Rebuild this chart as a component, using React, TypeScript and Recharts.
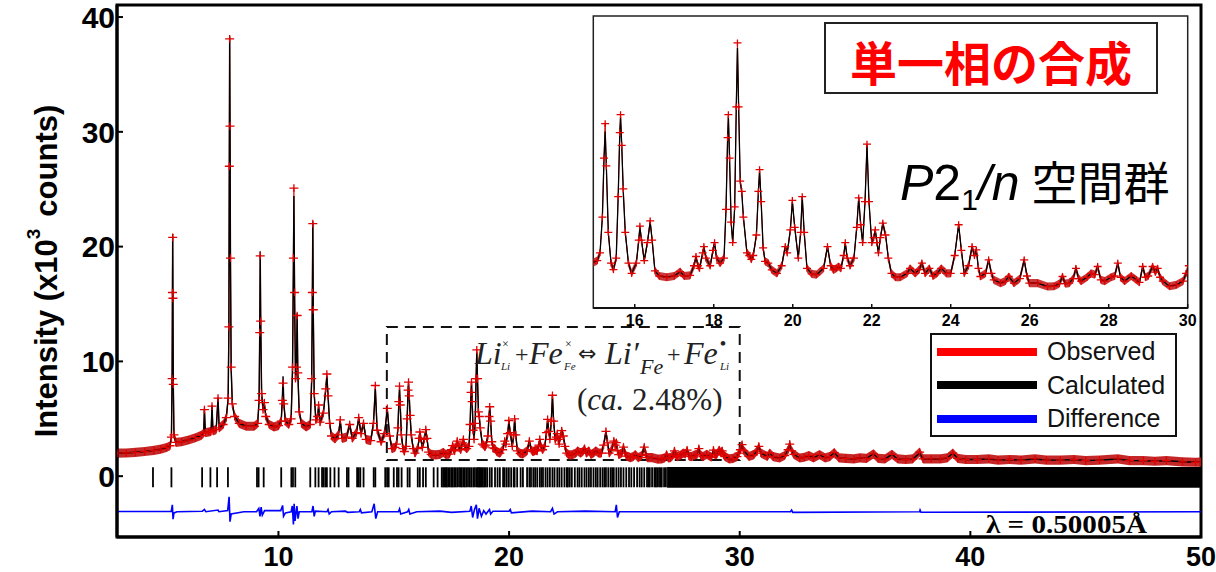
import React from "react";
import {
  ComposedChart,
  Line,
  Area,
  Scatter,
  XAxis,
  YAxis,
  ReferenceArea,
  Legend,
} from "recharts";

// 2θ (deg), observed, calculated — intensity in 10^3 counts
const profileLow: [number, number, number][] = [
  [3.0, 2.0, 2.0], [3.4, 2.02, 2.02], [3.8, 2.08, 2.08], [4.2, 2.15, 2.15],
  [4.6, 2.25, 2.25], [4.9, 2.35, 2.35], [5.15, 2.5, 2.5], [5.3, 2.65, 2.65],
  [5.36, 3.4, 3.3], [5.39, 8.5, 9.0], [5.405, 16.0, 16.5], [5.415, 20.8, 21.1],
  [5.425, 15.5, 15.8], [5.44, 8.0, 8.3], [5.47, 3.6, 3.6], [5.55, 2.95, 2.95],
  [5.8, 3.0, 3.0], [6.1, 3.15, 3.15], [6.4, 3.35, 3.35], [6.65, 3.55, 3.55],
  [6.76, 3.75, 3.75], [6.79, 5.8, 5.9], [6.83, 3.8, 3.8], [6.98, 3.85, 3.85],
  [7.08, 3.9, 3.9], [7.12, 6.1, 6.2], [7.16, 3.95, 3.95], [7.3, 4.05, 4.05],
  [7.38, 6.8, 6.85], [7.43, 4.2, 4.2], [7.6, 4.5, 4.5], [7.74, 5.1, 5.1],
  [7.82, 6.8, 6.8], [7.85, 13.0, 12.5], [7.87, 27.0, 27.5], [7.885, 38.1, 38.3],
  [7.9, 30.5, 31.0], [7.92, 19.0, 18.5], [7.95, 9.5, 9.3], [8.0, 6.3, 6.3],
  [8.1, 5.2, 5.2], [8.3, 4.6, 4.6], [8.6, 4.35, 4.35], [8.95, 4.35, 4.35],
  [9.1, 4.6, 4.6], [9.16, 6.6, 6.6], [9.19, 12.5, 12.8], [9.21, 19.2, 19.6],
  [9.23, 13.5, 13.8], [9.27, 7.2, 7.2], [9.33, 5.8, 5.8], [9.39, 6.4, 6.3],
  [9.45, 5.2, 5.2], [9.6, 4.5, 4.5], [9.8, 4.3, 4.3], [10.0, 4.4, 4.4],
  [10.12, 4.8, 4.8], [10.17, 6.6, 6.8], [10.2, 8.1, 8.7], [10.23, 6.3, 6.5],
  [10.3, 4.8, 4.8], [10.45, 4.5, 4.5], [10.55, 5.0, 5.0], [10.61, 9.5, 9.2],
  [10.65, 19.0, 18.5], [10.67, 25.1, 24.4], [10.7, 16.0, 15.5], [10.74, 8.5, 8.3],
  [10.78, 9.5, 9.3], [10.81, 14.0, 14.2], [10.84, 9.0, 9.0], [10.9, 5.6, 5.6],
  [11.0, 4.6, 4.6], [11.2, 4.3, 4.3], [11.38, 4.5, 4.5], [11.44, 8.5, 8.3],
  [11.47, 16.0, 15.5], [11.49, 22.0, 22.2], [11.51, 14.5, 14.3], [11.55, 7.2, 7.2],
  [11.62, 4.9, 4.9], [11.7, 5.2, 5.2], [11.74, 6.2, 6.1], [11.8, 4.7, 4.7],
  [11.95, 5.5, 5.5], [12.05, 7.6, 7.6], [12.1, 8.9, 8.7], [12.15, 7.0, 7.0],
  [12.22, 4.6, 4.6], [12.3, 3.5, 3.5], [12.45, 3.25, 3.25], [12.6, 3.6, 3.6],
  [12.68, 4.9, 4.8], [12.76, 3.3, 3.3], [12.95, 3.4, 3.4], [13.09, 4.5, 4.5],
  [13.2, 3.3, 3.3], [13.38, 3.8, 3.8], [13.48, 5.1, 5.0], [13.58, 3.7, 3.7],
  [13.69, 4.6, 4.6], [13.8, 3.2, 3.2], [14.0, 3.1, 3.1], [14.12, 4.6, 4.6],
  [14.2, 7.9, 7.6], [14.28, 4.0, 4.0], [14.45, 3.0, 3.0], [14.6, 3.7, 3.7],
  [14.72, 5.9, 5.8], [14.82, 3.5, 3.5], [14.92, 2.4, 2.4],
];

const profileMid: [number, number, number][] = [
  [15.05, 2.5, 2.5], [15.12, 2.8, 2.8], [15.18, 4.2, 4.2], [15.22, 6.5, 6.4],
  [15.25, 7.85, 7.54], [15.28, 6.2, 6.2], [15.33, 3.6, 3.6], [15.4, 2.4, 2.4],
  [15.46, 2.15, 2.15], [15.53, 2.6, 2.6], [15.58, 5.0, 5.0], [15.62, 7.5, 7.4],
  [15.64, 8.2, 8.1], [15.67, 7.0, 7.0], [15.71, 5.3, 5.1], [15.76, 3.6, 3.6],
  [15.84, 2.4, 2.4], [15.92, 2.0, 2.0], [16.04, 2.4, 2.4], [16.1, 3.3, 3.3],
  [16.13, 3.85, 3.8], [16.17, 3.3, 3.3], [16.24, 2.5, 2.5], [16.32, 3.2, 3.2],
  [16.39, 4.05, 4.0], [16.44, 3.3, 3.3], [16.51, 2.1, 2.1], [16.62, 1.9, 1.9],
  [16.81, 1.85, 1.85], [17.0, 1.9, 1.9], [17.15, 2.07, 2.07], [17.25, 1.9, 1.9],
  [17.4, 1.92, 1.92], [17.5, 2.3, 2.3], [17.55, 2.66, 2.66], [17.6, 2.3, 2.3],
  [17.64, 2.2, 2.2], [17.72, 2.8, 2.8], [17.75, 3.05, 3.05], [17.8, 2.6, 2.6],
  [17.91, 2.3, 2.3], [17.98, 2.9, 2.9], [18.02, 3.2, 3.2], [18.07, 2.6, 2.6],
  [18.16, 2.4, 2.4], [18.26, 2.6, 2.6], [18.31, 4.5, 4.5], [18.35, 7.3, 7.2],
  [18.37, 8.2, 8.13], [18.4, 6.5, 6.5], [18.44, 4.0, 4.0], [18.48, 3.2, 3.2],
  [18.53, 4.6, 4.6], [18.57, 8.5, 8.5], [18.6, 11.0, 10.8], [18.63, 8.5, 8.5],
  [18.67, 5.6, 5.6], [18.71, 5.2, 5.13], [18.75, 4.2, 4.2], [18.84, 2.8, 2.8],
  [18.9, 2.7, 2.7], [18.95, 2.55, 2.55], [19.0, 2.7, 2.7], [19.08, 3.5, 3.5],
  [19.13, 5.2, 5.2], [19.16, 6.05, 6.0], [19.2, 4.8, 4.8], [19.25, 3.0, 3.0],
  [19.3, 2.47, 2.47], [19.38, 2.4, 2.4], [19.47, 2.14, 2.14], [19.6, 2.0, 2.0],
  [19.72, 2.3, 2.3], [19.81, 3.05, 3.05], [19.86, 2.8, 2.8], [19.94, 3.7, 3.7],
  [19.99, 4.85, 4.8], [20.05, 3.8, 3.8], [20.14, 2.6, 2.6], [20.2, 3.6, 3.6],
  [20.24, 5.0, 5.0], [20.29, 3.6, 3.6], [20.36, 2.2, 2.2], [20.48, 1.98, 1.98],
  [20.6, 1.95, 1.95], [20.78, 2.2, 2.2], [20.88, 3.05, 3.05], [20.96, 2.3, 2.3],
  [21.03, 2.14, 2.14], [21.1, 2.2, 2.2], [21.16, 2.27, 2.27], [21.22, 2.2, 2.2],
  [21.29, 2.7, 2.7], [21.33, 3.2, 3.18], [21.38, 2.6, 2.6], [21.45, 2.3, 2.3],
  [21.55, 2.6, 2.6], [21.62, 3.8, 3.8], [21.67, 4.95, 4.94], [21.72, 3.9, 3.9],
  [21.77, 3.2, 3.18], [21.83, 4.8, 4.8], [21.88, 7.05, 7.0], [21.93, 4.8, 4.8],
  [22.0, 3.2, 3.18], [22.05, 3.4, 3.4], [22.09, 3.7, 3.7], [22.13, 3.2, 3.2],
  [22.17, 2.8, 2.8], [22.22, 3.4, 3.4], [22.28, 3.96, 3.96], [22.35, 3.5, 3.5],
  [22.42, 2.6, 2.6], [22.5, 2.0, 2.0], [22.6, 1.85, 1.85], [22.72, 1.85, 1.85],
  [22.89, 2.0, 2.0], [22.97, 2.2, 2.2], [23.1, 2.0, 2.0], [23.2, 2.15, 2.15],
  [23.27, 2.4, 2.4], [23.35, 2.0, 2.0], [23.46, 2.2, 2.2], [23.55, 1.9, 1.9],
  [23.65, 2.0, 2.0], [23.76, 2.2, 2.2], [23.89, 2.0, 2.0], [24.0, 2.0, 2.0],
  [24.1, 2.7, 2.7], [24.2, 3.9, 3.9], [24.27, 2.9, 2.9], [24.34, 2.0, 2.0],
  [24.45, 2.3, 2.3], [24.54, 3.05, 3.05], [24.6, 2.7, 2.7], [24.65, 2.92, 2.92],
  [24.7, 2.2, 2.2], [24.75, 1.88, 1.88], [24.88, 2.0, 2.0], [24.96, 2.53, 2.53],
  [25.03, 2.0, 2.0], [25.09, 1.75, 1.75], [25.26, 1.62, 1.62], [25.38, 1.7, 1.7],
  [25.47, 1.88, 1.88], [25.6, 1.62, 1.62], [25.75, 1.8, 1.8], [25.86, 2.53, 2.53],
  [25.93, 1.9, 1.9], [25.99, 1.62, 1.62], [26.2, 1.62, 1.62], [26.45, 1.49, 1.49],
  [26.62, 1.5, 1.5], [26.75, 1.6, 1.6], [26.83, 1.88, 1.88], [26.9, 1.6, 1.6],
  [27.0, 1.62, 1.62], [27.1, 1.8, 1.8], [27.17, 2.2, 2.2], [27.24, 1.8, 1.8],
  [27.3, 1.7, 1.7], [27.45, 1.85, 1.85], [27.55, 2.0, 2.0], [27.65, 1.95, 1.95],
  [27.72, 2.27, 2.27], [27.8, 1.75, 1.75], [27.9, 1.7, 1.7], [28.06, 1.85, 1.85],
  [28.15, 1.9, 1.9], [28.23, 2.4, 2.4], [28.3, 1.85, 1.85], [28.4, 1.7, 1.7],
  [28.57, 1.9, 1.9], [28.7, 1.75, 1.75], [28.78, 1.65, 1.65], [28.86, 2.27, 2.27],
  [28.93, 1.85, 1.85], [29.0, 1.9, 1.9], [29.11, 2.27, 2.27], [29.18, 2.05, 2.05],
  [29.24, 2.2, 2.2], [29.3, 1.85, 1.85], [29.37, 1.7, 1.7], [29.54, 1.5, 1.5],
  [29.71, 1.55, 1.55], [29.88, 1.7, 1.7], [29.96, 2.0, 2.0], [30.03, 2.3, 2.3],
];

const profileHigh: [number, number, number][] = [
  [30.1, 2.75, 2.7], [30.18, 2.2, 2.2], [30.4, 1.73, 1.73], [30.6, 1.85, 1.85],
  [30.75, 2.2, 2.2], [30.83, 2.6, 2.6], [30.92, 2.0, 2.0], [31.2, 1.73, 1.73],
  [31.3, 2.0, 2.0], [31.45, 1.7, 1.7], [31.73, 1.58, 1.58], [31.95, 1.8, 1.8],
  [32.1, 2.3, 2.3], [32.17, 2.8, 2.75], [32.25, 2.2, 2.2], [32.35, 1.9, 1.9],
  [32.6, 1.58, 1.58], [32.8, 1.65, 1.65], [33.0, 1.79, 1.79], [33.2, 1.6, 1.6],
  [33.46, 1.87, 1.87], [33.7, 1.6, 1.6], [33.9, 1.7, 1.7], [34.1, 2.05, 2.05],
  [34.3, 1.6, 1.6], [34.6, 1.55, 1.55], [34.95, 1.5, 1.5], [35.2, 1.6, 1.6],
  [35.5, 1.55, 1.55], [35.8, 1.95, 1.95], [36.0, 1.55, 1.55], [36.3, 1.5, 1.5],
  [36.6, 1.9, 1.9], [36.85, 1.5, 1.5], [37.2, 1.45, 1.45], [37.5, 1.5, 1.5],
  [37.8, 2.1, 2.0], [37.95, 1.5, 1.5], [38.3, 1.5, 1.5], [38.7, 1.5, 1.5],
  [39.0, 1.6, 1.6], [39.24, 2.0, 2.0], [39.45, 1.55, 1.55], [39.8, 1.45, 1.45],
  [40.3, 1.45, 1.45], [40.8, 1.5, 1.5], [41.2, 1.4, 1.4], [41.7, 1.45, 1.45],
  [42.2, 1.4, 1.4], [42.8, 1.5, 1.5], [43.3, 1.4, 1.4], [43.9, 1.4, 1.4],
  [44.5, 1.45, 1.45], [45.0, 1.35, 1.35], [45.6, 1.4, 1.4], [46.4, 1.5, 1.5],
  [46.9, 1.35, 1.35], [47.5, 1.35, 1.35], [48.0, 1.3, 1.3], [48.5, 1.35, 1.35],
  [49.2, 1.25, 1.25], [49.76, 1.21, 1.21], [50.0, 1.22, 1.22],
];

// 2θ, Iobs - Icalc (plotted with offset)
const difference: [number, number][] = [
  [3.0, -3.08], [5.35, -3.08], [5.4, -2.5], [5.43, -3.75], [5.47, -3.2], [5.6, -3.1],
  [6.7, -3.05], [6.79, -2.9], [6.85, -3.1], [7.38, -2.95], [7.42, -3.1], [7.8, -3.0],
  [7.86, -1.8], [7.9, -3.96], [7.95, -3.3], [8.5, -3.1], [9.05, -3.1], [9.15, -2.8],
  [9.2, -3.5], [9.25, -2.7], [9.3, -3.4], [9.4, -3.0], [10.1, -3.0], [10.18, -2.55],
  [10.22, -3.5], [10.3, -3.2], [10.55, -3.1], [10.6, -2.6], [10.65, -4.2], [10.68, -2.4],
  [10.72, -3.9], [10.8, -2.6], [10.85, -3.7], [10.9, -3.1], [11.45, -3.1], [11.5, -2.6],
  [11.55, -3.5], [11.6, -3.05], [12.1, -3.1], [12.15, -2.9], [12.2, -3.3], [12.3, -3.1],
  [12.9, -3.05], [13.0, -3.15], [13.5, -3.1], [13.55, -2.9], [13.6, -3.2], [14.05, -3.1],
  [14.15, -2.4], [14.22, -3.7], [14.3, -3.1], [15.2, -3.1], [15.25, -2.85], [15.3, -3.3],
  [15.6, -3.1], [15.65, -2.9], [15.7, -3.3], [16.0, -3.1], [17.0, -3.05], [17.5, -3.15],
  [18.3, -3.05], [18.36, -2.6], [18.42, -3.6], [18.5, -2.9], [18.58, -2.5], [18.63, -3.7],
  [18.7, -2.8], [18.8, -3.5], [18.9, -3.0], [19.0, -3.3], [19.15, -2.9], [19.2, -3.3],
  [19.3, -3.05], [20.0, -3.05], [20.05, -2.9], [20.1, -3.2], [21.0, -3.05], [21.8, -3.1],
  [21.88, -2.8], [21.95, -3.3], [22.1, -3.1], [23.3, -3.05], [24.6, -3.1], [24.65, -2.5],
  [24.7, -3.6], [24.78, -3.1], [32.2, -3.1], [32.25, -2.95], [32.3, -3.15], [37.8, -3.1],
  [37.82, -2.95], [37.86, -3.15], [50.0, -3.1],
];

// Bragg reflection positions (2θ); beyond denseReflectionsFrom they merge into a solid band
const reflections: number[] = [
  4.56, 5.36, 6.69, 7.05, 7.34, 7.81, 9.07, 9.14, 9.36, 10.12, 10.56, 10.63, 10.73,
  11.38, 11.6, 11.74, 11.89, 11.95, 12.03, 12.1, 12.25, 12.43, 12.61, 12.97, 13.04,
  13.41, 13.48, 13.55, 13.69, 14.13, 14.2, 14.63, 14.71, 14.78, 15.0, 15.14, 15.21,
  15.34, 15.6, 15.69, 16.04, 16.13, 16.27, 16.39, 16.73, 16.9, 17.08, 17.14, 17.2,
  17.25, 17.3, 17.36, 17.43, 17.5, 17.55, 17.62, 17.68, 17.75, 17.83, 17.9, 17.95,
  18.02, 18.08, 18.15, 18.22, 18.3, 18.37, 18.45, 18.52, 18.6, 18.65, 18.7, 18.75,
  18.8, 18.86, 18.92, 18.98, 19.05, 19.16, 19.25, 19.39, 19.5, 19.6, 19.74, 19.81,
  19.9, 19.99, 20.09, 20.2, 20.24, 20.35, 20.5, 20.6, 20.78, 20.88, 20.95, 21.05,
  21.13, 21.22, 21.33, 21.4, 21.47, 21.58, 21.67, 21.77, 21.88, 21.97, 22.09, 22.18,
  22.28, 22.4, 22.5, 22.55, 22.63, 22.72, 22.85, 22.97, 23.05, 23.15, 23.27, 23.36,
  23.46, 23.55, 23.66, 23.76, 23.84, 23.95, 24.05, 24.13, 24.2, 24.3, 24.4, 24.47,
  24.54, 24.65, 24.75, 24.85, 24.96, 25.08, 25.2, 25.3, 25.42, 25.55, 25.66, 25.75,
  25.86, 25.98, 26.04, 26.1, 26.2, 26.3, 26.36, 26.42, 26.5, 26.56, 26.62, 26.72, 26.8,
];
const denseReflectionsFrom = 26.85;
const reflectionRow = -0.1;

const xTicks = [10, 20, 30, 40, 50];
const yTicks = [0, 10, 20, 30, 40];
const insetTicks = [16, 18, 20, 22, 24, 26, 28, 30];
const seriesNames = ["Observed", "Calculated", "Difference"];

const SANS = "'Liberation Sans', Arial, Helvetica, sans-serif";
const SERIF = "'Liberation Serif', 'Times New Roman', serif";
const CJK = "'Noto Sans CJK JP', 'Noto Sans CJK SC', sans-serif";

const legendColors: Record<string, string> = {
  Observed: "#ff0000",
  Calculated: "#000000",
  Difference: "#0000ff",
};

const profileRows = [...profileLow, ...profileMid, ...profileHigh].map(
  ([tt, obs, calc]) => ({ tt, obs, calc })
);
const insetRows = profileRows.filter((r) => r.tt >= 14.9 && r.tt <= 30.05);
const diffRows = difference.map(([tt, diff]) => ({ tt, diff }));
const reflRows = reflections.map((tt) => ({ tt, refl: reflectionRow }));

// thickness of the red "observed" band, in intensity units
const bandMain = 0.4;
const bandInset = 0.16;

const crossDot = (size: number) => (props: any) => {
  const { cx, cy, index } = props;
  if (cx == null || cy == null || isNaN(cx) || isNaN(cy)) return <g key={`c${index}`} />;
  return (
    <path
      key={`c${index}`}
      d={`M${cx - size},${cy}h${size * 2}M${cx},${cy - size * 0.85}v${size * 1.7}`}
      stroke="#e00000"
      strokeWidth={1.3}
      fill="none"
    />
  );
};

const reflectionTick = (props: any) => {
  const { cx, cy } = props;
  return <line x1={cx} x2={cx} y1={cy - 10} y2={cy + 10} stroke="#000" strokeWidth={1.8} />;
};

const MainXTick = (props: any) => {
  const { x, y, payload } = props;
  return (
    <g>
      <line x1={x} x2={x} y1={y} y2={y - 6} stroke="#000" strokeWidth={2} />
      <text x={x} y={y + 29} textAnchor="middle" fontSize={27} fontWeight="bold" fontFamily={SANS} fill="#000">
        {payload.value}
      </text>
    </g>
  );
};

const MainYTick = (props: any) => {
  const { x, y, payload } = props;
  return (
    <g>
      <line x1={x} x2={x + 6} y1={y} y2={y} stroke="#000" strokeWidth={2} />
      <text x={x - 2} y={y} dy="0.36em" textAnchor="end" fontSize={30} fontWeight="bold" fontFamily={SANS} fill="#000">
        {payload.value}
      </text>
    </g>
  );
};

const InsetXTick = (props: any) => {
  const { x, y, payload } = props;
  return (
    <g>
      <line x1={x} x2={x} y1={y} y2={y - 4} stroke="#111" strokeWidth={1.5} />
      <text x={x} y={y + 18} textAnchor="middle" fontSize={16} fontWeight="bold" fontFamily={SANS} fill="#000">
        {payload.value}
      </text>
    </g>
  );
};

const renderLegend = (props: any) => {
  const items = seriesNames
    .map((name) => (props.payload || []).find((p: any) => p.value === name))
    .filter(Boolean);
  return (
    <div
      style={{
        width: 247,
        height: 104,
        border: "2px solid #111",
        boxSizing: "border-box",
        background: "#fff",
        fontFamily: SANS,
      }}
    >
      {items.map((item: any) => (
        <div key={item.value} style={{ display: "flex", alignItems: "center", height: 33.5 }}>
          <span
            style={{
              display: "inline-block",
              width: 100,
              height: 8,
              marginLeft: 5,
              marginRight: 10,
              background: legendColors[item.value] ?? item.color,
            }}
          />
          <span style={{ fontSize: 25, color: "#111", lineHeight: 1 }}>{item.value}</span>
        </div>
      ))}
    </div>
  );
};

const formulaSub = { fontSize: 11, fontStyle: "italic" as const };
const formulaSup = { fontSize: 12 };

export default function App() {
  return (
    <div style={{ position: "absolute", left: 0, top: 0, width: 1216, height: 572, background: "#fff", overflow: "hidden" }}>
      <ComposedChart width={1216} height={572} data={profileRows} margin={{ top: 5, right: 15, bottom: 0, left: 0 }}>
        <XAxis
          type="number"
          dataKey="tt"
          domain={[3, 50]}
          ticks={xTicks}
          allowDataOverflow
          height={35}
          axisLine={{ stroke: "#000", strokeWidth: 3 }}
          tickLine={false}
          tickSize={0}
          tickMargin={0}
          tick={<MainXTick />}
        />
        <YAxis
          type="number"
          domain={[-5.3, 41.05]}
          ticks={yTicks}
          allowDataOverflow
          width={117}
          axisLine={{ stroke: "#000", strokeWidth: 3 }}
          tickLine={false}
          tickSize={0}
          tickMargin={0}
          tick={<MainYTick />}
        />
        <ReferenceArea x1={3} x2={50} y1={-5.3} y2={41.05} fill="none" stroke="#000" strokeWidth={3} ifOverflow="visible" />
        <ReferenceArea x1={14.7} x2={30} y1={1.4} y2={13} fill="none" stroke="#111" strokeWidth={2} strokeDasharray="11 7" />
        <ReferenceArea x1={denseReflectionsFrom} x2={50} y1={-1.0} y2={0.8} fill="#000" fillOpacity={1} stroke="none" />
        <Scatter data={reflRows} dataKey="refl" name="refl" legendType="none" shape={reflectionTick} isAnimationActive={false} />
        <Area
          dataKey={(r: any) => [r.obs - bandMain, r.obs + bandMain]}
          name="band"
          legendType="none"
          type="linear"
          stroke="none"
          fill="#c01616"
          fillOpacity={0.92}
          dot={false}
          activeDot={false}
          isAnimationActive={false}
        />
        <Line
          dataKey="obs"
          name="Observed"
          type="linear"
          stroke="#cc1414"
          strokeWidth={1.2}
          dot={crossDot(4.5)}
          activeDot={false}
          isAnimationActive={false}
        />
        <Line
          dataKey="calc"
          name="Calculated"
          type="linear"
          stroke="#000"
          strokeWidth={1.4}
          dot={false}
          activeDot={false}
          isAnimationActive={false}
        />
        <Line
          data={diffRows}
          dataKey="diff"
          name="Difference"
          type="linear"
          stroke="#0000ff"
          strokeWidth={1.6}
          dot={false}
          activeDot={false}
          isAnimationActive={false}
        />
        <Legend
          content={renderLegend}
          layout="vertical"
          align="center"
          verticalAlign="middle"
          wrapperStyle={{ left: 930, top: 333, width: 247, height: 104 }}
        />
      </ComposedChart>

      {/* inset: zoom on 15–30° */}
      <div style={{ position: "absolute", left: 593.3, top: 16, width: 594.4, height: 292, background: "#fff" }} />
      <div style={{ position: "absolute", left: 583, top: 0 }}>
        <ComposedChart width={620} height={340} data={insetRows} margin={{ top: 16, right: 15.3, bottom: 0, left: 10.3 }}>
          <XAxis
            type="number"
            dataKey="tt"
            domain={[14.95, 30]}
            ticks={insetTicks}
            allowDataOverflow
            height={32}
            axisLine={{ stroke: "#111", strokeWidth: 2 }}
            tickLine={false}
            tickSize={0}
            tickMargin={0}
            tick={<InsetXTick />}
          />
          <YAxis type="number" domain={[0.65, 12.05]} allowDataOverflow hide />
          <ReferenceArea x1={14.95} x2={30} y1={0.65} y2={12.05} fill="none" stroke="#222" strokeWidth={1.5} ifOverflow="visible" />
          <Area
            dataKey={(r: any) => [r.obs - bandInset, r.obs + bandInset]}
            type="linear"
            stroke="none"
            fill="#c01616"
            fillOpacity={0.85}
            dot={false}
            activeDot={false}
            isAnimationActive={false}
          />
          <Line
            dataKey="obs"
            type="linear"
            stroke="#cc1414"
            strokeWidth={1}
            dot={crossDot(4)}
            activeDot={false}
            isAnimationActive={false}
          />
          <Line
            dataKey="calc"
            type="linear"
            stroke="#000"
            strokeWidth={1.3}
            dot={false}
            activeDot={false}
            isAnimationActive={false}
          />
        </ComposedChart>
      </div>

      {/* annotations */}
      <svg width={1216} height={572} style={{ position: "absolute", left: 0, top: 0, pointerEvents: "none" }}>
        <text
          transform="translate(46,271) rotate(-90)"
          textAnchor="middle"
          dominantBaseline="central"
          fontSize={31}
          fontWeight="bold"
          fontFamily={SANS}
          fill="#000"
        >
          Intensity (x10
          <tspan fontSize={19} dy={-13}>3</tspan>
          <tspan dy={13} dx={12}>counts)</tspan>
        </text>

        <g fontFamily={SERIF} fill="#222">
          <text x={475} y={364} fontSize={32} fontStyle="italic">Li</text>
          <text x={502} y={348} {...formulaSup}>×</text>
          <text x={501} y={370} {...formulaSub}>Li</text>
          <text x={515} y={362} fontSize={24}>+</text>
          <text x={529} y={364} fontSize={32} fontStyle="italic">Fe</text>
          <text x={565} y={348} {...formulaSup}>×</text>
          <text x={564} y={370} {...formulaSub}>Fe</text>
          <text x={578} y={361} fontSize={22} fontFamily="'DejaVu Sans', sans-serif">⇔</text>
          <text x={605} y={364} fontSize={32} fontStyle="italic">Li′</text>
          <text x={640} y={374} fontSize={22} fontStyle="italic">Fe</text>
          <text x={667} y={362} fontSize={24}>+</text>
          <text x={684} y={364} fontSize={32} fontStyle="italic">Fe</text>
          <text x={720} y={349} fontSize={17} fontWeight="bold">•</text>
          <text x={720} y={370} {...formulaSub}>Li</text>
        </g>
        <text x={577} y={410} fontFamily={SERIF} fontSize={31} fill="#222">
          (<tspan fontStyle="italic">ca.</tspan> 2.48%)
        </text>

        <text
          x={986}
          y={533}
          fontFamily={SERIF}
          fontWeight="bold"
          fontSize={25}
          textLength={161}
          lengthAdjust="spacingAndGlyphs"
          fill="#000"
        >
          λ = 0.50005Å
        </text>

        <rect x={825} y={23} width={332} height={70} fill="#fff" stroke="#222" strokeWidth={2} />
        <text
          x={991}
          y={60}
          textAnchor="middle"
          dominantBaseline="central"
          fontSize={47}
          fontWeight="bold"
          fontFamily={CJK}
          fill="#ff0000"
        >
          単一相の合成
        </text>

        <text x={900} y={200} fontSize={50} fontFamily={SANS} fill="#000">
          <tspan fontStyle="italic">P</tspan>
          <tspan>2</tspan>
          <tspan fontSize={30} dy={10}>1</tspan>
          <tspan fontStyle="italic" dy={-10}>/n</tspan>
          <tspan fontFamily={CJK} fontSize={46} dx={12}>空間群</tspan>
        </text>
      </svg>
    </div>
  );
}
